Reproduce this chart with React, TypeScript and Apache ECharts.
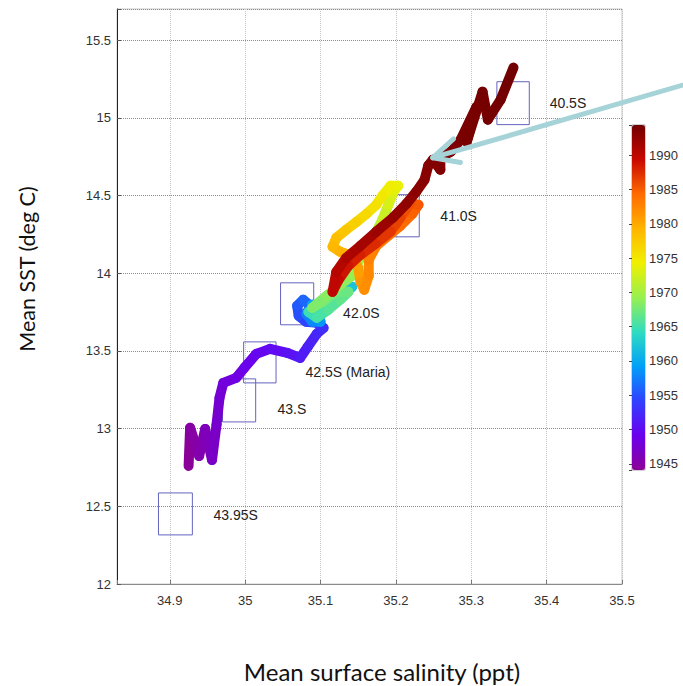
import React, { useEffect, useRef } from "react";
import * as echarts from "echarts";

// Trajectory: mean surface salinity (ppt), mean SST (deg C), year
const salinity = [
  34.925, 34.927, 34.939, 34.947, 34.956, 34.962, 34.966, 34.971, 34.988, 34.999,
  35.015, 35.033, 35.056, 35.073, 35.083, 35.095, 35.104,
  35.095, 35.081, 35.071, 35.069, 35.077, 35.087, 35.081, 35.089, 35.100, 35.097,
  35.089, 35.097, 35.113, 35.129, 35.142, 35.129, 35.113, 35.097, 35.084, 35.095,
  35.110, 35.126, 35.137, 35.121, 35.103, 35.089, 35.108, 35.126, 35.142, 35.150,
  35.161, 35.172, 35.182, 35.190, 35.197, 35.203, 35.193, 35.182, 35.174, 35.161,
  35.148, 35.134, 35.121, 35.116, 35.126, 35.142, 35.150, 35.153, 35.158, 35.164,
  35.164, 35.174, 35.190, 35.206, 35.222, 35.230, 35.219, 35.206, 35.193, 35.173,
  35.153, 35.137, 35.124, 35.116, 35.121, 35.134, 35.153, 35.174, 35.196, 35.214,
  35.227, 35.238, 35.243, 35.249, 35.259, 35.259, 35.273, 35.286, 35.307, 35.294,
  35.315, 35.322, 35.339, 35.356,
];
const sst = [
  12.760, 13.005, 12.824, 12.998, 12.798, 13.024, 13.198, 13.294, 13.326, 13.391,
  13.481, 13.513, 13.487, 13.455, 13.526, 13.610, 13.648,
  13.681, 13.687, 13.726, 13.790, 13.829, 13.790, 13.739, 13.687, 13.687, 13.751,
  13.797, 13.739, 13.790, 13.854, 13.912, 13.893, 13.842, 13.790, 13.751, 13.713,
  13.764, 13.829, 13.880, 13.880, 13.816, 13.777, 13.854, 13.925, 13.983, 14.073,
  14.164, 14.247, 14.344, 14.440, 14.524, 14.563, 14.563, 14.498, 14.440, 14.382,
  14.331, 14.279, 14.228, 14.170, 14.138, 14.112, 14.035, 13.945, 13.893, 13.983,
  14.086, 14.176, 14.241, 14.305, 14.382, 14.440, 14.453, 14.357, 14.267, 14.189,
  14.118, 14.048, 13.957, 13.880, 14.009, 14.099, 14.176, 14.267, 14.357, 14.447,
  14.524, 14.601, 14.692, 14.730, 14.666, 14.743, 14.782, 14.859, 15.071, 14.846,
  15.168, 14.988, 15.117, 15.323,
];
const years = [
  1944.3, 1945.0, 1945.6, 1946.2, 1946.8, 1947.3, 1947.7, 1948.1, 1948.5, 1949.0,
  1949.5, 1950.0, 1950.6, 1951.2, 1951.7, 1952.3, 1952.8,
  1953.5, 1954.2, 1954.9, 1955.6, 1956.2, 1956.8, 1957.4, 1958.0, 1958.6, 1959.2,
  1959.8, 1960.2, 1960.8, 1961.4, 1962.0, 1962.8, 1963.5, 1964.2, 1964.8, 1965.4,
  1966.0, 1966.6, 1967.0, 1967.4, 1967.8, 1968.1, 1968.5, 1968.8, 1969.2, 1969.8,
  1970.5, 1971.2, 1972.0, 1972.8, 1973.5, 1974.0, 1974.5, 1975.0, 1975.5, 1976.2,
  1977.0, 1977.8, 1978.5, 1979.0, 1979.5, 1980.2, 1980.8, 1981.3, 1981.8, 1982.3,
  1982.8, 1983.3, 1983.8, 1984.3, 1984.8, 1985.3, 1985.8, 1986.4, 1987.0, 1987.6,
  1988.2, 1988.8, 1989.4, 1990.0, 1990.5, 1991.0, 1991.5, 1992.0, 1992.4, 1992.7,
  1993.0, 1993.2, 1993.35, 1993.45, 1993.55, 1993.65, 1993.75, 1993.85, 1993.95, 1994.05,
  1994.15, 1994.25, 1994.32, 1994.4,
];

// Latitude boxes
const boxNames = ["40.5S", "41.0S", "42.0S", "42.5S (Maria)", "43.S", "43.95S"];
const boxSalMin = [35.334, 35.193, 35.047, 34.998, 34.970, 34.885];
const boxSalMax = [35.377, 35.231, 35.091, 35.041, 35.014, 34.930];
const boxSstMin = [14.956, 14.234, 13.668, 13.294, 13.043, 12.316];
const boxSstMax = [15.232, 14.505, 13.938, 13.558, 13.320, 12.586];
const labelSal = [35.404, 35.259, 35.130, 35.080, 35.043, 34.958];
const labelSst = [15.097, 14.370, 13.745, 13.365, 13.127, 12.444];

// Annotation arrow (tail, tip) in data units
const arrowSal = [35.605, 35.249];
const arrowSst = [15.245, 14.743];

// Colour bar
const yearMin = 1944.1;
const yearMax = 1994.4;
const colormap = [
  "#8c0096", "#6a00ee", "#3040ff", "#00a0f8", "#30dcc0", "#98f050",
  "#f0f000", "#ffb400", "#ff6a00", "#c80800", "#720000",
];

const xTitle = "Mean surface salinity (ppt)";
const yTitle = "Mean SST (deg C)";

export default function App() {
  const ref = useRef<HTMLDivElement>(null);
  useEffect(() => {
    const chart = echarts.init(ref.current!, null, { renderer: "svg" });
    const traj = salinity.map((s, i) => [s, sst[i], years[i]]);
    const boxes = boxNames.map((_, i) => [
      boxSalMin[i], boxSstMin[i], boxSalMax[i], boxSstMax[i], labelSal[i], labelSst[i],
    ]);
    const tickFont = "'Liberation Sans', Arial, sans-serif";
    const titleFont = "Lato, 'Open Sans', sans-serif";
    const titles = [
      {
        type: "text", x: 382, y: 671,
        style: { text: xTitle, fontSize: 24, fontFamily: titleFont, fill: "#111", align: "center", verticalAlign: "middle" },
      },
      {
        type: "text", x: 27, y: 269, rotation: Math.PI / 2,
        style: { text: yTitle, fontSize: 21.5, fontFamily: titleFont, fill: "#111", align: "center", verticalAlign: "middle" },
      },
    ];
    const option: any = {
      animation: false,
      backgroundColor: "#ffffff",
      grid: [
        { left: 117, top: 9, width: 505, height: 575, show: true, borderColor: "#c8c8c8", borderWidth: 1 },
        { left: 632, top: 125, width: 13, height: 345, show: true, borderColor: "#666", borderWidth: 0.6 },
      ],
      xAxis: [
        {
          type: "value", gridIndex: 0, min: 34.83, max: 35.5, splitNumber: 7,
          axisLine: { onZero: false, lineStyle: { color: "#8a8a8a" } },
          axisTick: { inside: true, length: 4, lineStyle: { color: "#777" } },
          axisLabel: {
            margin: 10, fontSize: 13, color: "#333", fontFamily: tickFont,
            formatter: (v: number) => {
              const r = Math.round(v * 10) / 10;
              return Math.abs(v - r) < 1e-6 ? String(r) : "";
            },
          },
          splitLine: { show: true, lineStyle: { type: "dotted", color: "#c4c4c4" } },
        },
        { type: "value", gridIndex: 1, show: false, min: 0, max: 1 },
      ],
      yAxis: [
        {
          type: "value", gridIndex: 0, min: 12, max: 15.7, interval: 0.5,
          axisLine: { onZero: false, lineStyle: { color: "#222" } },
          axisTick: { inside: true, length: 4, lineStyle: { color: "#555" } },
          axisLabel: {
            margin: 6, fontSize: 13, color: "#333", fontFamily: tickFont,
            formatter: (v: number) => {
              const r = Math.round(v * 2) / 2;
              return Math.abs(v - r) < 1e-6 ? String(r) : "";
            },
          },
          splitLine: { show: true, lineStyle: { type: "dotted", color: "#8c8c8c" } },
        },
        {
          type: "value", gridIndex: 1, position: "right", min: yearMin, max: yearMax, splitNumber: 10,
          axisLine: { show: false },
          axisTick: { show: true, inside: true, length: 3, lineStyle: { color: "#444" } },
          axisLabel: {
            margin: 4, fontSize: 13, color: "#333", fontFamily: tickFont,
            formatter: (v: number) => (Math.abs(v / 5 - Math.round(v / 5)) < 1e-6 ? String(Math.round(v)) : ""),
          },
          splitLine: { show: false },
        },
      ],
      visualMap: {
        type: "continuous", seriesIndex: 1, dimension: 2, min: yearMin, max: yearMax,
        inRange: { color: colormap }, calculable: false, hoverLink: false,
        left: 632, top: 125, itemWidth: 13, itemHeight: 345, padding: 0, orient: "vertical",
      },
      series: [
        {
          type: "custom", xAxisIndex: 0, yAxisIndex: 0, data: boxes, encode: { x: [0, 2], y: [1, 3] },
          silent: true, z: 2,
          renderItem: (params: any, api: any) => {
            const p1 = api.coord([api.value(0), api.value(1)]);
            const p2 = api.coord([api.value(2), api.value(3)]);
            const pl = api.coord([api.value(4), api.value(5)]);
            return {
              type: "group",
              children: [
                {
                  type: "rect",
                  shape: { x: p1[0], y: p2[1], width: p2[0] - p1[0], height: p1[1] - p2[1] },
                  style: { fill: "none", stroke: "#6464c0", lineWidth: 1 },
                },
                {
                  type: "text", x: pl[0], y: pl[1],
                  style: {
                    text: boxNames[params.dataIndex], fontSize: 14, fontFamily: tickFont,
                    fill: "#222", align: "left", verticalAlign: "middle",
                  },
                },
              ],
            };
          },
        },
        {
          type: "custom", xAxisIndex: 0, yAxisIndex: 0, data: traj, encode: { x: 0, y: 1 },
          dimensions: ["salinity", "sst", "year"], silent: true, z: 3,
          renderItem: (params: any, api: any) => {
            const i = params.dataIndex;
            const j = Math.min(i + 1, salinity.length - 1);
            const p0 = api.coord([salinity[i], sst[i]]);
            const p1 = api.coord([salinity[j], sst[j]]);
            return {
              type: "line",
              shape: { x1: p0[0], y1: p0[1], x2: p1[0], y2: p1[1] },
              style: { stroke: api.visual("color"), lineWidth: 10, lineCap: "round", lineJoin: "round" },
            };
          },
        },
      ],
      graphic: titles,
    };
    chart.setOption(option);

    const tail = chart.convertToPixel({ gridIndex: 0 } as any, [arrowSal[0], arrowSst[0]]) as number[];
    const tip = chart.convertToPixel({ gridIndex: 0 } as any, [arrowSal[1], arrowSst[1]]) as number[];
    const ang = Math.atan2(tail[1] - tip[1], tail[0] - tip[0]);
    const L = 28;
    const sp = (26 * Math.PI) / 180;
    const arrowStyle = { stroke: "#a6d3d8", lineWidth: 5, lineCap: "round" };
    chart.setOption({
      graphic: [
        ...titles,
        { type: "line", z: 100, silent: true, shape: { x1: tail[0], y1: tail[1], x2: tip[0], y2: tip[1] }, style: arrowStyle },
        { type: "line", z: 100, silent: true, shape: { x1: tip[0], y1: tip[1], x2: tip[0] + L * Math.cos(ang - sp), y2: tip[1] + L * Math.sin(ang - sp) }, style: arrowStyle },
        { type: "line", z: 100, silent: true, shape: { x1: tip[0], y1: tip[1], x2: tip[0] + L * Math.cos(ang + sp), y2: tip[1] + L * Math.sin(ang + sp) }, style: arrowStyle },
      ],
    });

    return () => chart.dispose();
  }, []);
  return <div ref={ref} style={{ position: "fixed", left: 0, top: 0, width: 683, height: 686 }} />;
}
